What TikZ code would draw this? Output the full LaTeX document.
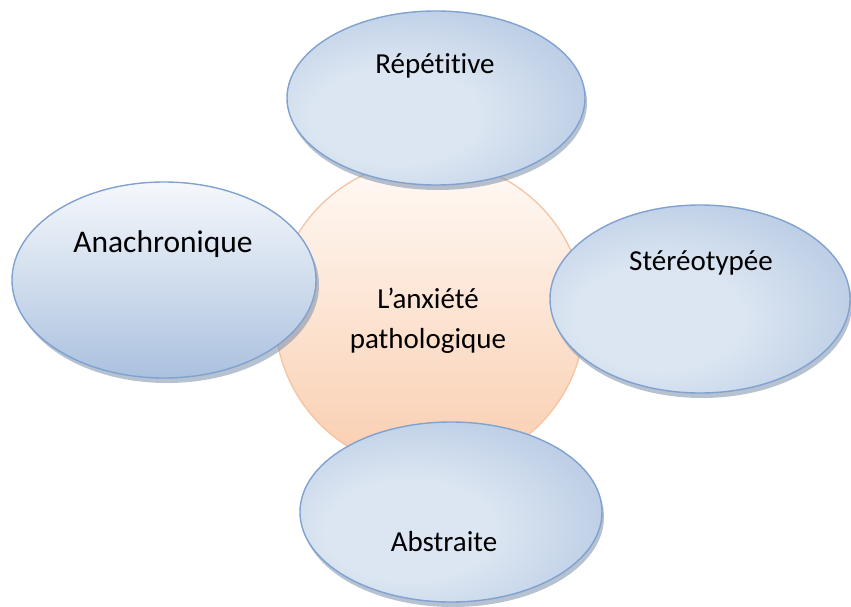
\documentclass[tikz,border=0pt]{standalone}
\usepackage{fontspec}
\setmainfont{Carlito}[Ligatures=NoCommon]
\usetikzlibrary{shapes.geometric,shadows}
\definecolor{bluelight}{HTML}{DCE6F2}
\definecolor{bluedark}{HTML}{A2BADB}
\definecolor{blueline}{HTML}{7FA2D2}
\definecolor{blueshadow}{HTML}{7C8FAA}
\definecolor{peachtop}{HTML}{FFFAF6}
\definecolor{peachbot}{HTML}{F9CDAE}
\definecolor{peachline}{HTML}{F4B48A}
\pgfdeclareradialshading{bluesheen}{\pgfpoint{-8bp}{-6bp}}{%
  color(0bp)=(bluelight); color(14bp)=(bluelight); color(32bp)=(bluedark!55!bluelight); color(52bp)=(bluedark); color(100bp)=(bluedark)}
\tikzset{
  bubble/.style={ellipse, draw=blueline, line width=1.4pt, shading=bluesheen, inner sep=0pt,
    drop shadow={shadow xshift=2pt, shadow yshift=-5pt, fill=blueshadow, opacity=0.55}},
  bubblev/.style={ellipse, draw=blueline, line width=1.4pt, top color=white!70!bluelight, bottom color=bluedark!85!bluelight,
    middle color=bluelight!80!bluedark, inner sep=0pt,
    drop shadow={shadow xshift=3pt, shadow yshift=-5pt, fill=blueshadow, opacity=0.55}},
  core/.style={circle, draw=peachline!80!white, line width=1.3pt, top color=peachtop, bottom color=peachbot, inner sep=0pt},
  lbl/.style={font=\fontsize{29}{40}\selectfont, anchor=base, inner sep=0pt},
}
\begin{document}
\begin{tikzpicture}[x=1pt,y=-1pt]
\useasboundingbox (0,0) rectangle (851,607);
\node[core, minimum size=310pt] (core) at (430,315) {};
\node[font=\fontsize{29}{40}\selectfont, align=center, inner sep=0pt] (coretext) at (428,321) {L’anxiété\\pathologique};
\node[bubble, minimum width=298pt, minimum height=174pt] (rep) at (436,98) {};
\node[bubblev, minimum width=304pt, minimum height=196pt] (ana) at (164,280) {};
\node[bubble, minimum width=300pt, minimum height=188pt] (ste) at (700,299) {};
\node[bubble, minimum width=302pt, minimum height=180pt] (abs) at (451,512) {};
\node[lbl] (trep) at (435,74) {Répétitive};
\node[lbl, font=\fontsize{31.5}{40}\selectfont] (tana) at (163,252) {Anachronique};
\node[lbl] (tste) at (701,270) {Stéréotypée};
\node[lbl] (tabs) at (444,551) {Abstraite};
\end{tikzpicture}
\end{document}
